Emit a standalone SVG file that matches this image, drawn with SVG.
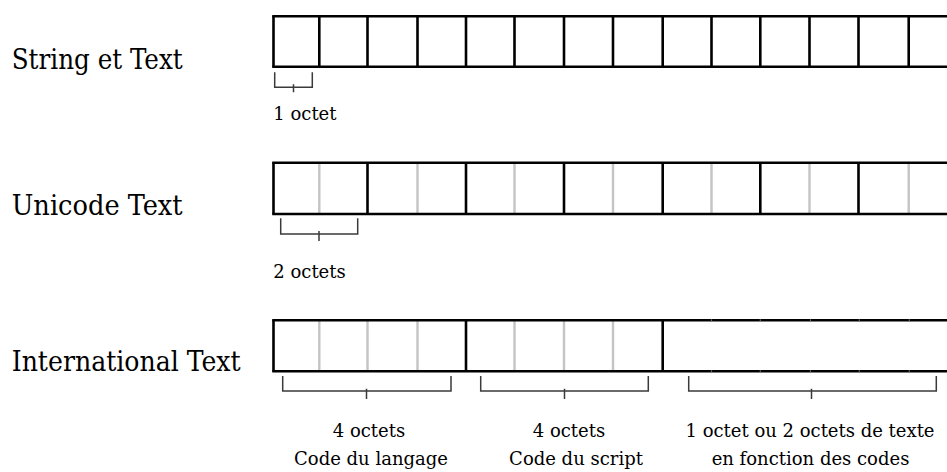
<svg xmlns="http://www.w3.org/2000/svg" width="947" height="472" viewBox="0 0 947 472">
  <style>
    .label { font-family: "DejaVu Serif", "Liberation Serif", serif; font-stretch: condensed; font-size: 28px; fill: #000; }
    .note { font-family: "DejaVu Serif", "Liberation Serif", serif; font-size: 18px; fill: #000; }
    .mid { text-anchor: middle; }
    .edge { stroke: #000; stroke-width: 2.6; fill: none; }
    .sub { stroke: #c4c4c4; stroke-width: 2.4; fill: none; }
    .brace { stroke: #3a3a3a; stroke-width: 1.5; fill: none; }
  </style>

  <!-- String et Text: one byte per cell -->
  <g id="string-text">
    <text class="label" x="11.7" y="69" textLength="171" lengthAdjust="spacingAndGlyphs">String et Text</text>
    <path class="edge" d="M272.2,16.3H947M272.2,66.8H947"/>
    <path class="edge" d="M273.5,16.3V66.8M319.3,16.3V66.8M367.5,16.3V66.8M417.5,16.3V66.8M466,16.3V66.8M514.5,16.3V66.8M564,16.3V66.8M613,16.3V66.8M662.7,16.3V66.8M711.5,16.3V66.8M760.3,16.3V66.8M809.5,16.3V66.8M858.5,16.3V66.8M908.7,16.3V66.8"/>
  </g>

  <!-- Unicode Text: two bytes per character -->
  <g id="unicode-text">
    <text class="label" x="11.7" y="215" textLength="171" lengthAdjust="spacingAndGlyphs">Unicode Text</text>
    <path class="sub" d="M319.3,162.8V214M417.5,162.8V214M514.5,162.8V214M613,162.8V214M711.5,162.8V214M809.5,162.8V214M908.7,162.8V214"/>
    <path class="edge" d="M272.2,162.8H947M272.2,214H947"/>
    <path class="edge" d="M273.5,162.8V214M367.5,162.8V214M466,162.8V214M564,162.8V214M662.7,162.8V214M760.3,162.8V214M858.5,162.8V214"/>
  </g>

  <!-- International Text: language code, script code, then text -->
  <g id="international-text">
    <text class="label" x="11.7" y="371" textLength="229" lengthAdjust="spacingAndGlyphs">International Text</text>
    <path class="sub" d="M319.3,320.2V371.2M367.5,320.2V371.2M417.5,320.2V371.2M514.5,320.2V371.2M564,320.2V371.2M613,320.2V371.2"/>
    <path class="edge" d="M272.2,320.2H947M272.2,371.2H947"/>
    <path stroke="#666" stroke-width="1.2" fill="none" d="M711.5,319.3V321.2M760.3,319.3V321.2M810.5,319.3V321.2M859.3,319.3V321.2M909.3,319.3V321.2M711.5,370.3V372.2M760.3,370.3V372.2M810.5,370.3V372.2M859.3,370.3V372.2M909.3,370.3V372.2"/>
    <path class="edge" d="M273.5,320.2V371.2M466,320.2V371.2M662.7,320.2V371.2"/>
  </g>

  <!-- size brackets -->
  <g id="connectors">
    <path class="brace" d="M274.7,72.3V87.3H312.3V72.3M293.5,84.3V92.3"/>
    <path class="brace" d="M280.7,218.3V234H357.7V218.3M319,231V241"/>
    <path class="brace" d="M282.7,376V391H451V376M366.5,388.7V399"/>
    <path class="brace" d="M480.7,376V391H648.3V376M564.5,388.7V399"/>
    <path class="brace" d="M688.7,376V391H936.3V376M811.5,388.7V399"/>
  </g>

  <!-- bracket captions -->
  <g id="captions">
    <text class="note" x="273.3" y="120.3">1 octet</text>
    <text class="note" x="273.3" y="278.3">2 octets</text>
    <text class="note mid" x="369" y="437.3">4 octets</text>
    <text class="note mid" x="371" y="465">Code du langage</text>
    <text class="note mid" x="569" y="437.3">4 octets</text>
    <text class="note mid" x="576" y="465">Code du script</text>
    <text class="note mid" x="810" y="437.3">1 octet ou 2 octets de texte</text>
    <text class="note mid" x="810.5" y="465">en fonction des codes</text>
  </g>
</svg>
